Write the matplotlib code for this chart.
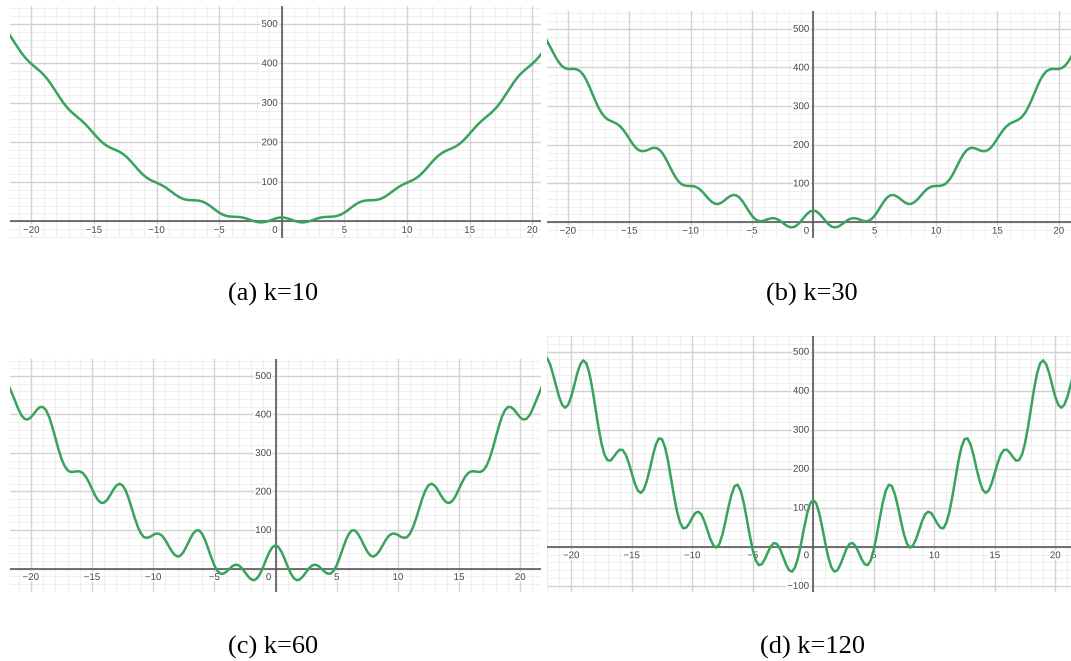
import numpy as np
import matplotlib.pyplot as plt
import matplotlib.patheffects as pe

# sample positions along x (same for all four panels), step 0.25
x_vals = np.arange(-22.0, 22.25, 0.25)

# curve values, x = -22 ... 22
y_k10 = [484.0,
         472.6, 460.5, 448.3, 436.3, 425.0, 414.9, 406.2, 398.7,
         392.0, 385.6, 378.6, 370.7, 361.4, 350.8, 339.0, 326.7,
         314.4, 302.8, 292.4, 283.4, 275.6, 268.7, 262.1, 255.4,
         248.1, 239.9, 231.1, 222.0, 213.0, 204.7, 197.6, 191.9,
         187.4, 183.7, 180.5, 176.8, 172.1, 166.2, 158.8, 150.3,
         141.2, 132.0, 123.5, 116.0, 109.9, 105.1, 101.3, 97.8,
         94.3, 90.2, 85.4, 79.7, 73.7, 67.9, 62.7, 58.5,
         55.7, 54.2, 53.6, 53.5, 52.9, 51.7, 49.0, 45.0,
         39.8, 33.8, 27.7, 22.2, 17.8, 14.6, 12.8, 12.0,
         11.7, 11.3, 10.5, 8.9, 6.5, 3.7, 0.9, -1.3,
         -2.5, -2.3, -0.9, 1.6, 4.6, 7.3, 9.3,
         10.0, 9.3, 7.3, 4.6, 1.6, -0.9, -2.3, -2.5,
         -1.3, 0.9, 3.7, 6.5, 8.9, 10.5, 11.3, 11.7,
         12.0, 12.8, 14.6, 17.8, 22.2, 27.7, 33.8, 39.8,
         45.0, 49.0, 51.7, 52.9, 53.5, 53.6, 54.2, 55.7,
         58.5, 62.7, 67.9, 73.7, 79.7, 85.4, 90.2, 94.3,
         97.8, 101.3, 105.1, 109.9, 116.0, 123.5, 132.0, 141.2,
         150.3, 158.8, 166.2, 172.1, 176.8, 180.5, 183.7, 187.4,
         191.9, 197.6, 204.7, 213.0, 222.0, 231.1, 239.9, 248.1,
         255.4, 262.1, 268.7, 275.6, 283.4, 292.4, 302.8, 314.4,
         326.7, 339.0, 350.8, 361.4, 370.7, 378.6, 385.6, 392.0,
         398.7, 406.2, 414.9, 425.0, 436.3, 448.3, 460.5, 472.6,
         484.0]

y_k30 = [484.0,
         471.8, 457.1, 441.8, 426.8, 413.9, 404.2, 398.5, 396.1,
         396.0, 396.3, 394.8, 390.2, 381.2, 368.0, 350.9, 332.0,
         313.1, 295.9, 282.2, 272.1, 265.6, 261.7, 258.2, 254.1,
         248.0, 239.3, 228.2, 215.9, 203.9, 193.7, 186.8, 183.6,
         184.0, 186.5, 190.2, 192.3, 191.3, 186.1, 176.4, 163.0,
         147.4, 131.5, 117.2, 106.1, 98.4, 94.9, 93.7, 93.5,
         92.9, 90.1, 85.0, 77.2, 68.1, 59.1, 51.9, 47.5,
         46.9, 50.1, 55.8, 62.4, 67.6, 70.5, 69.0, 63.1,
         53.2, 41.0, 28.1, 16.7, 8.2, 3.4, 2.3, 4.0,
         7.0, 9.5, 10.3, 8.6, 4.3, -1.5, -7.5, -12.0,
         -13.7, -11.5, -5.7, 2.9, 12.6, 21.5, 27.8,
         30.0, 27.8, 21.5, 12.6, 2.9, -5.7, -11.5, -13.7,
         -12.0, -7.5, -1.5, 4.3, 8.6, 10.3, 9.5, 7.0,
         4.0, 2.3, 3.4, 8.2, 16.7, 28.1, 41.0, 53.2,
         63.1, 69.0, 70.5, 67.6, 62.4, 55.8, 50.1, 46.9,
         47.5, 51.9, 59.1, 68.1, 77.2, 85.0, 90.1, 92.9,
         93.5, 93.7, 94.9, 98.4, 106.1, 117.2, 131.5, 147.4,
         163.0, 176.4, 186.1, 191.3, 192.3, 190.2, 186.5, 184.0,
         183.6, 186.8, 193.7, 203.9, 215.9, 228.2, 239.3, 248.0,
         254.1, 258.2, 261.7, 265.6, 272.1, 282.2, 295.9, 313.1,
         332.0, 350.9, 368.0, 381.2, 390.2, 394.8, 396.3, 396.0,
         396.1, 398.5, 404.2, 413.9, 426.8, 441.8, 457.1, 471.8,
         484.0]

y_k60 = [484.0,
         470.5, 452.0, 432.1, 412.6, 397.1, 388.2, 386.9, 392.2,
         401.9, 412.4, 419.1, 419.3, 410.8, 393.7, 368.7, 340.0,
         311.1, 285.6, 266.8, 255.3, 250.7, 251.1, 252.4, 252.3,
         248.0, 238.3, 223.9, 206.8, 190.2, 177.2, 170.4, 171.2,
         178.9, 190.8, 204.9, 215.6, 220.1, 215.9, 202.8, 182.0,
         156.8, 130.8, 107.9, 91.1, 81.3, 79.6, 82.3, 87.1,
         90.8, 90.0, 84.5, 73.5, 59.6, 45.9, 35.7, 30.9,
         33.8, 43.9, 59.0, 75.7, 89.7, 98.8, 99.0, 90.1,
         73.4, 51.6, 28.7, 8.3, -6.2, -13.4, -13.4, -8.0,
         -0.2, 6.8, 10.0, 8.1, 1.1, -9.3, -20.1, -28.1,
         -30.4, -25.3, -13.0, 4.7, 24.6, 42.8, 55.5,
         60.0, 55.5, 42.8, 24.6, 4.7, -13.0, -25.3, -30.4,
         -28.1, -20.1, -9.3, 1.1, 8.1, 10.0, 6.8, -0.2,
         -8.0, -13.4, -13.4, -6.2, 8.3, 28.7, 51.6, 73.4,
         90.1, 99.0, 98.8, 89.7, 75.7, 59.0, 43.9, 33.8,
         30.9, 35.7, 45.9, 59.6, 73.5, 84.5, 90.0, 90.8,
         87.1, 82.3, 79.6, 81.3, 91.1, 107.9, 130.8, 156.8,
         182.0, 202.8, 215.9, 220.1, 215.6, 204.9, 190.8, 178.9,
         171.2, 170.4, 177.2, 190.2, 206.8, 223.9, 238.3, 248.0,
         252.3, 252.4, 251.1, 250.7, 255.3, 266.8, 285.6, 311.1,
         340.0, 368.7, 393.7, 410.8, 419.3, 419.1, 412.4, 401.9,
         392.2, 386.9, 388.2, 397.1, 412.6, 432.1, 452.0, 470.5,
         484.0]

y_k120 = [484.0,
          468.0, 441.7, 412.6, 384.1, 363.7, 356.2, 363.7, 384.5,
          413.7, 444.5, 467.6, 477.6, 470.1, 445.1, 404.4, 355.9,
          307.0, 265.0, 235.9, 221.6, 220.8, 229.9, 240.7, 248.6,
          247.9, 236.3, 215.3, 188.7, 162.8, 144.1, 137.8, 146.4,
          168.8, 199.4, 234.2, 262.3, 277.6, 275.6, 255.5, 220.1,
          175.4, 129.3, 89.3, 61.3, 47.1, 48.9, 59.6, 74.1,
          86.5, 89.7, 83.4, 66.0, 42.7, 19.6, 3.4, -2.2,
          7.4, 31.5, 65.3, 102.4, 133.9, 155.3, 158.9, 144.2,
          113.7, 73.0, 29.8, -8.3, -35.0, -47.1, -44.8, -31.9,
          -14.4, 1.3, 9.5, 7.2, -5.4, -24.8, -45.3, -60.2,
          -63.8, -52.9, -27.6, 8.4, 48.7, 85.3, 110.9,
          120.0, 110.9, 85.3, 48.7, 8.4, -27.6, -52.9, -63.8,
          -60.2, -45.3, -24.8, -5.4, 7.2, 9.5, 1.3, -14.4,
          -31.9, -44.8, -47.1, -35.0, -8.3, 29.8, 73.0, 113.7,
          144.2, 158.9, 155.3, 133.9, 102.4, 65.3, 31.5, 7.4,
          -2.2, 3.4, 19.6, 42.7, 66.0, 83.4, 89.7, 86.5,
          74.1, 59.6, 48.9, 47.1, 61.3, 89.3, 129.3, 175.4,
          220.1, 255.5, 275.6, 277.6, 262.3, 234.2, 199.4, 168.8,
          146.4, 137.8, 144.1, 162.8, 188.7, 215.3, 236.3, 247.9,
          248.6, 240.7, 229.9, 220.8, 221.6, 235.9, 265.0, 307.0,
          355.9, 404.4, 445.1, 470.1, 477.6, 467.6, 444.5, 413.7,
          384.5, 363.7, 356.2, 363.7, 384.1, 412.6, 441.7, 468.0,
          484.0]

captions = ["(a) k=10", "(b) k=30", "(c) k=60", "(d) k=120"]
curves = [y_k10, y_k30, y_k60, y_k120]

# visible window of each screenshot
xlims = [(-21.7, 20.7), (-21.7, 21.0), (-21.7, 21.7), (-22.0, 21.3)]
ylims = [(-42, 545), (-41, 546), (-61, 544), (-116, 540)]

W, H = 1071, 661
# panel boxes in pixels: left, top, right, bottom
boxes = [(10, 6, 541, 238), (547, 11, 1071, 238),
         (10, 359, 541, 592), (547, 336, 1071, 592)]
caption_pos = [(273, 294), (812, 294), (273, 647), (812, 647)]

green = "#38a35c"
halo = [pe.withStroke(linewidth=2.5, foreground="white")]
lab_kw = dict(textcoords="offset points", fontsize=7, color="#444444",
              family="Liberation Sans", zorder=2.5, path_effects=halo)

fig = plt.figure(figsize=(W / 100, H / 100), dpi=100)

for i in range(4):
    l, t, r, b = boxes[i]
    ax = fig.add_axes([l / W, 1 - b / H, (r - l) / W, (b - t) / H])
    x0, x1 = xlims[i]
    y0, y1 = ylims[i]

    # desmos style grid
    for gx in range(-22, 23):
        if gx % 5 == 0:
            ax.axvline(gx, color="#d2d2d2", lw=1.0, zorder=1)
        else:
            ax.axvline(gx, color="#efefef", lw=0.7, zorder=0)
    for gy in range(-120, 561, 20):
        if gy % 100 == 0:
            ax.axhline(gy, color="#d2d2d2", lw=1.0, zorder=1)
        else:
            ax.axhline(gy, color="#efefef", lw=0.7, zorder=0)
    ax.axhline(0, color="#5a5a5a", lw=1.2, zorder=2)
    ax.axvline(0, color="#5a5a5a", lw=1.2, zorder=2)

    ax.plot(x_vals, curves[i], color=green, lw=1.8, zorder=3,
            solid_joinstyle="round", solid_capstyle="round")

    # tick labels sit on the axes, not on the frame
    for tx in range(-20, 21, 5):
        if tx == 0 or not (x0 < tx < x1):
            continue
        lab = str(tx).replace("-", "\u2212")
        ax.annotate(lab, xy=(tx, 0), xytext=(0, -2.5), ha="center", va="top", **lab_kw)
    for ty in range(-100, 501, 100):
        if ty == 0 or not (y0 < ty < y1):
            continue
        lab = str(ty).replace("-", "\u2212")
        ax.annotate(lab, xy=(0, ty), xytext=(-3, 0), ha="right", va="center", **lab_kw)
    ax.annotate("0", xy=(0, 0), xytext=(-3, -2.5), ha="right", va="top", **lab_kw)

    ax.set_xlim(x0, x1)
    ax.set_ylim(y0, y1)
    ax.set_xticks([])
    ax.set_yticks([])
    for s in ax.spines.values():
        s.set_visible(False)

    cx, cy = caption_pos[i]
    fig.text(cx / W, 1 - cy / H, captions[i], ha="center", va="center",
             fontsize=19, family="Liberation Serif")

fig.savefig("out.png", dpi=100)
